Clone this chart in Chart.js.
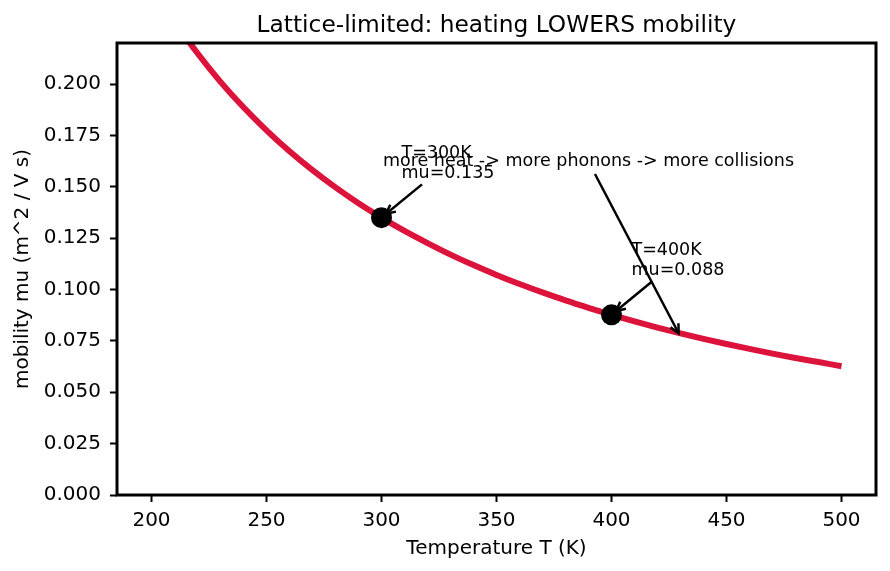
<!DOCTYPE html>
<html>
<head>
<meta charset="utf-8">
<script src="https://cdn.jsdelivr.net/npm/chart.js@4.4.1/dist/chart.umd.min.js"></script>
<style>
  html, body { margin: 0; padding: 0; background: #fff; }
  #chart { display: block; }
</style>
</head>
<body>
<canvas id="chart" width="890" height="571"></canvas>
<script>
// Data
var temps = [200, 210, 220, 230, 240, 250, 260, 270, 280, 290, 300, 310, 320, 330, 340, 350,
             360, 370, 380, 390, 400, 410, 420, 430, 440, 450, 460, 470, 480, 490, 500];
var mobility = [0.248, 0.2305, 0.215, 0.2011, 0.1887, 0.1775, 0.1673, 0.1581, 0.1497, 0.142, 0.135,
                0.1285, 0.1226, 0.117, 0.1119, 0.1071, 0.1027, 0.0986, 0.0947, 0.0911, 0.0877,
                0.0845, 0.0815, 0.0787, 0.076, 0.0735, 0.0711, 0.0688, 0.0667, 0.0647, 0.0627];
var markedT = [300, 400];
var markedMu = [0.135, 0.0877];
var xTicks = [200, 250, 300, 350, 400, 450, 500];
var yTicks = [0, 0.025, 0.05, 0.075, 0.1, 0.125, 0.15, 0.175, 0.2];

// Annotation texts and the data points they point at
var noteLines = [['T=300K', 'mu=0.135'], ['T=400K', 'mu=0.088'], ['more heat -> more phonons -> more collisions']];
var noteTargets = [[300, 0.135], [400, 0.0877], [430, 0.077]];
var noteTextAt = [null, null, [390, 0.16]];

var FONT = "'DejaVu Sans', sans-serif";

function drawArrow(ctx, x0, y0, x1, y1) {
    var ang = Math.atan2(y1 - y0, x1 - x0);
    var hl = 9, hw = 4.5;
    ctx.beginPath();
    ctx.moveTo(x0, y0);
    ctx.lineTo(x1, y1);
    ctx.stroke();
    ctx.beginPath();
    ctx.moveTo(x1 - hl * Math.cos(ang) + hw * Math.sin(ang), y1 - hl * Math.sin(ang) - hw * Math.cos(ang));
    ctx.lineTo(x1, y1);
    ctx.lineTo(x1 - hl * Math.cos(ang) - hw * Math.sin(ang), y1 - hl * Math.sin(ang) + hw * Math.cos(ang));
    ctx.stroke();
}

// Frame, title and annotations
var decorPlugin = {
    id: 'decor',
    afterDatasetsDraw: function (chart) {
        var ctx = chart.ctx, area = chart.chartArea;
        var xs = chart.scales.x, ys = chart.scales.y;
        ctx.save();
        ctx.strokeStyle = '#000';
        ctx.lineWidth = 3;
        ctx.strokeRect(area.left, area.top, area.right - area.left, area.bottom - area.top);

        ctx.fillStyle = '#000';
        ctx.font = '23.3px ' + FONT;
        ctx.textAlign = 'center';
        ctx.textBaseline = 'alphabetic';
        ctx.fillText('Lattice-limited: heating LOWERS mobility', (area.left + area.right) / 2, 32);

        var fs = 17.5, lh = 20;
        ctx.font = fs + 'px ' + FONT;
        ctx.lineWidth = 2.5;
        for (var i = 0; i < noteLines.length; i++) {
            var lines = noteLines[i];
            var tx = xs.getPixelForValue(noteTargets[i][0]);
            var ty = ys.getPixelForValue(noteTargets[i][1]);
            var w = 0;
            lines.forEach(function (l) { w = Math.max(w, ctx.measureText(l).width); });
            var left, lastBase, shrinkB;
            if (noteTextAt[i]) {
                var cxp = xs.getPixelForValue(noteTextAt[i][0]);
                left = cxp - w / 2;
                lastBase = ys.getPixelForValue(noteTextAt[i][1]);
                shrinkB = 4;
            } else {
                left = tx + 20;
                lastBase = ty - 40;
                shrinkB = 6;
            }
            var firstBase = lastBase - lh * (lines.length - 1);
            ctx.textAlign = 'left';
            lines.forEach(function (l, k) { ctx.fillText(l, left, firstBase + k * lh); });

            // arrow from the text box edge to the target
            var top = firstBase - 0.76 * fs, bottom = lastBase + 0.24 * fs;
            var cx = left + w / 2, cy = (top + bottom) / 2;
            var dx = tx - cx, dy = ty - cy;
            var len = Math.sqrt(dx * dx + dy * dy);
            var t = Math.min((w / 2) / Math.abs(dx || 1e-9), ((bottom - top) / 2) / Math.abs(dy || 1e-9));
            var ux = dx / len, uy = dy / len;
            var sx = cx + dx * t + ux * 4, sy = cy + dy * t + uy * 4;
            drawArrow(ctx, sx, sy, tx - ux * shrinkB, ty - uy * shrinkB);
        }
        ctx.restore();
    }
};

var curvePoints = temps.map(function (t, i) { return { x: t, y: mobility[i] }; });
var markerPoints = markedT.map(function (t, i) { return { x: t, y: markedMu[i] }; });

new Chart(document.getElementById('chart').getContext('2d'), {
    type: 'line',
    data: {
        datasets: [{
            data: markerPoints,
            showLine: false,
            pointRadius: 10.5,
            pointBackgroundColor: '#000',
            pointBorderColor: '#000',
            pointBorderWidth: 0,
            clip: false
        }, {
            data: curvePoints,
            borderColor: '#dc143c',
            borderWidth: 6,
            pointRadius: 0,
            fill: false,
            cubicInterpolationMode: 'monotone',
            clip: 0
        }]
    },
    options: {
        responsive: false,
        devicePixelRatio: 1,
        animation: false,
        layout: { padding: { top: 43, right: 14, left: 0, bottom: 0 } },
        plugins: {
            legend: { display: false },
            tooltip: { enabled: false },
            title: { display: false }
        },
        scales: {
            x: {
                type: 'linear',
                min: 185,
                max: 515,
                afterBuildTicks: function (s) { s.ticks = xTicks.map(function (v) { return { value: v }; }); },
                afterFit: function (s) { s.height = 76; },
                border: { display: false },
                grid: { drawOnChartArea: false, drawTicks: true, tickLength: 7, tickColor: '#000', tickWidth: 2 },
                ticks: { color: '#000', padding: 7, maxRotation: 0, font: { family: FONT, size: 20 } },
                title: { display: true, text: 'Temperature T (K)', color: '#000', padding: { top: 0, bottom: 10 }, font: { family: FONT, size: 20 } }
            },
            y: {
                type: 'linear',
                min: 0,
                max: 0.22,
                afterBuildTicks: function (s) { s.ticks = yTicks.map(function (v) { return { value: v }; }); },
                afterFit: function (s) { s.width = 117; },
                border: { display: false },
                grid: { drawOnChartArea: false, drawTicks: true, tickLength: 7, tickColor: '#000', tickWidth: 2 },
                ticks: {
                    color: '#000', padding: 9, font: { family: FONT, size: 20 },
                    callback: function (v) { return Number(v).toFixed(3); }
                },
                title: { display: true, text: 'mobility mu (m^2 / V s)', color: '#000', padding: { top: 11, bottom: 0 }, font: { family: FONT, size: 20 } }
            }
        }
    },
    plugins: [decorPlugin]
});
</script>
</body>
</html>
